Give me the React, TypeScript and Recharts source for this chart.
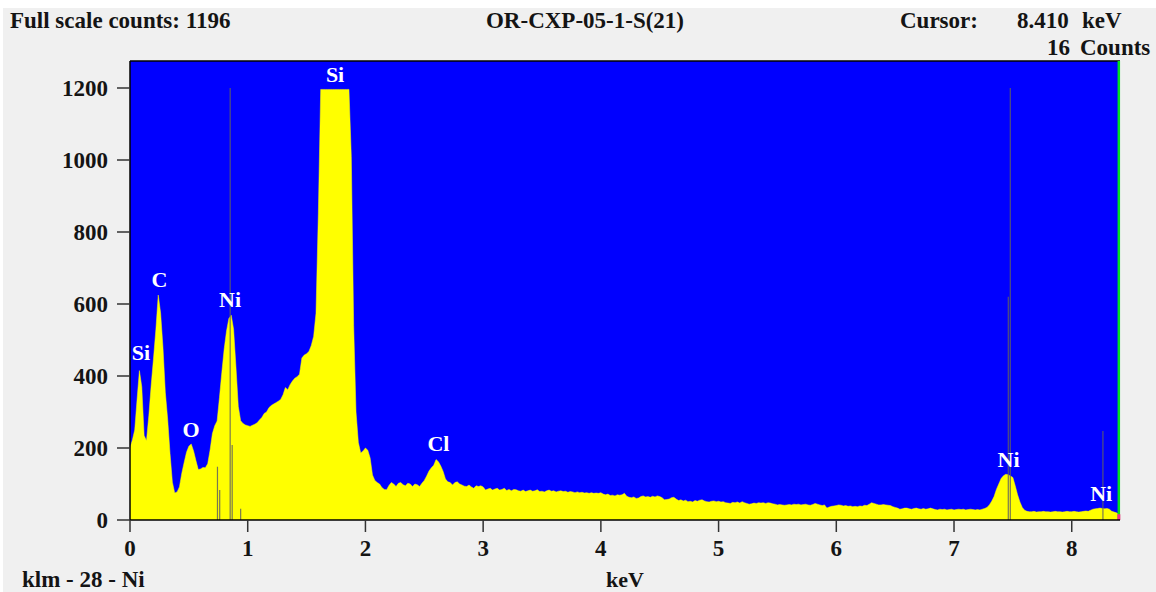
import React from 'react';
import {
  ComposedChart,
  Area,
  XAxis,
  YAxis,
  CartesianGrid,
  ReferenceLine,
  ReferenceDot,
} from 'recharts';

// Energy calibration: one value every 0.02 keV, starting at 0 keV
const CHANNEL_WIDTH_KEV = 0.02;

// Counts per channel (0.00 keV .. 8.40 keV)
const spectrumCounts = [
  200, 222, 250, 335, 415, 370, 235, 220, 290, 375,
  450, 530, 625, 575, 480, 355, 280, 185, 105, 75,
  78, 92, 130, 160, 188, 205, 211, 192, 165, 140,
  142, 146, 145, 156, 194, 240, 262, 275, 340, 410,
  475, 525, 560, 569, 530, 426, 315, 276, 268, 264,
  262, 260, 263, 266, 270, 278, 285, 296, 300, 312,
  318, 322, 326, 330, 335, 348, 368, 362, 376, 386,
  394, 398, 405, 450, 458, 462, 468, 485, 510, 574,
  852, 1196, 1196, 1196, 1196, 1196, 1196, 1196, 1196, 1196,
  1196, 1196, 1196, 1196, 1009, 540, 300, 215, 186, 192,
  200, 194, 172, 125, 110, 104, 100, 90, 85, 84,
  96, 104, 100, 93, 102, 104, 98, 95, 102, 100,
  93, 100, 98, 93, 102, 110, 122, 136, 145, 152,
  168, 162, 150, 135, 114, 106, 104, 97, 104, 106,
  100, 97, 94, 93, 97, 92, 88, 95, 93, 95,
  92, 83, 86, 88, 83, 86, 88, 83, 85, 88,
  82, 85, 81, 85, 84, 81, 80, 83, 79, 81,
  83, 80, 81, 84, 79, 80, 78, 81, 83, 80,
  81, 78, 80, 81, 79, 80, 77, 79, 78, 76,
  78, 76, 77, 75, 76, 74, 76, 74, 75, 74,
  76, 72, 70, 72, 68, 69, 67, 70, 69, 70,
  74, 66, 63, 62, 64, 60, 61, 65, 67, 64,
  65, 63, 66, 64, 67, 65, 62, 56, 57, 58,
  62, 63, 58, 54, 56, 53, 55, 51, 52, 50,
  54, 52, 55, 56, 53, 51, 50, 52, 53, 51,
  52, 50, 51, 48, 47, 46, 49, 48, 50, 47,
  51, 48, 46, 44, 45, 47, 46, 48, 47, 48,
  46, 48, 47, 45, 44, 42, 43, 42, 41, 42,
  43, 42, 44, 43, 44, 42, 43, 44, 42, 41,
  43, 46, 44, 42, 40, 42, 33, 36, 38, 39,
  40, 42, 41, 39, 40, 38, 39, 37, 38, 37,
  39, 38, 41, 40, 44, 48, 46, 44, 42, 42,
  43, 42, 41, 40, 37, 35, 33, 30, 31, 33,
  33, 31, 30, 32, 33, 31, 30, 32, 30, 31,
  33, 31, 29, 28, 30, 29, 30, 28, 29, 30,
  28, 29, 30, 29, 30, 28, 29, 30, 29, 28,
  29, 28, 30, 32, 35, 42, 52, 65, 85, 100,
  115, 123, 127, 126, 122, 118, 95, 70, 50, 35,
  27, 24, 23, 23, 24, 22, 23, 23, 24, 23,
  23, 22, 23, 24, 23, 23, 22, 23, 24, 23,
  23, 24, 23, 22, 23, 24, 25, 24, 27, 30,
  31, 32, 33, 32, 31, 32, 30, 24, 22, 20,
  16,
];

const xTicks = [0, 1, 2, 3, 4, 5, 6, 7, 8];
const yTicks = [0, 200, 400, 600, 800, 1000, 1200];
const xDomainMax = 8.41;
const yDomainMax = 1275;

// Peak identification labels
const peakLabelText = ['Si', 'C', 'O', 'Ni', 'Si', 'Cl', 'Ni', 'Ni'];
const peakLabelEnergy = [0.093, 0.25, 0.518, 0.85, 1.742, 2.62, 7.463, 8.25];
const peakLabelCounts = [444, 648, 231, 593, 1217, 192, 148, 54];

// KLM marker lines for Ni (28)
const klmEnergy = [0.743, 0.762, 0.851, 0.868, 0.94, 7.461, 7.478, 8.265];
const klmHeight = [148, 83, 1200, 208, 31, 620, 1200, 247];

// Cursor
const cursorEnergy = 8.4;
const cursorCounts = 16;

const data = spectrumCounts.map((c, i) => ({
  energy: Number((i * CHANNEL_WIDTH_KEV).toFixed(2)),
  counts: c,
}));

const FONT = "'Liberation Serif', 'Times New Roman', serif";
const TEXT = '#141414';

const W = 1156;
const H = 592;

export default function App() {
  return (
    <div style={{ position: 'absolute', left: 0, top: 0, width: W, height: H, background: '#ffffff', overflow: 'hidden' }}>
      <div style={{ position: 'absolute', left: 3, top: 8, width: W - 3, height: H - 8, background: '#f0f0f0' }} />
      <div style={{ position: 'absolute', left: 0, top: 0 }}>
        <ComposedChart
          width={W}
          height={H}
          data={data}
          margin={{ top: 61, right: 36, bottom: 32, left: 0 }}
        >
          <CartesianGrid horizontal={false} vertical={false} fill="#0000ff" fillOpacity={1} stroke="none" />
          <XAxis
            type="number"
            dataKey="energy"
            domain={[0, xDomainMax]}
            ticks={xTicks}
            allowDataOverflow
            height={40}
            tickSize={12}
            tickMargin={8}
            axisLine={{ stroke: '#000000', strokeWidth: 1.5 }}
            tickLine={{ stroke: '#333333', strokeWidth: 1.5 }}
            tick={{ fill: TEXT, fontSize: 23, fontWeight: 'bold', fontFamily: FONT }}
            label={{
              content: (props: any) => {
                const vb = props.viewBox || {};
                return (
                  <text
                    x={vb.x + vb.width / 2}
                    y={587}
                    textAnchor="middle"
                    fill={TEXT}
                    fontSize={22}
                    fontWeight="bold"
                    fontFamily={FONT}
                  >
                    keV
                  </text>
                );
              },
            }}
          />
          <YAxis
            type="number"
            domain={[0, yDomainMax]}
            ticks={yTicks}
            allowDataOverflow
            width={130}
            tickSize={13}
            tickMargin={9}
            axisLine={{ stroke: '#000000', strokeWidth: 1.5 }}
            tickLine={{ stroke: '#333333', strokeWidth: 1.5 }}
            tick={{ fill: TEXT, fontSize: 23, fontWeight: 'bold', fontFamily: FONT }}
          />
          <ReferenceLine y={yDomainMax} stroke="#000000" strokeWidth={1.5} />
          <Area
            type="linear"
            dataKey="counts"
            fill="#ffff00"
            fillOpacity={1}
            stroke="#ffff00"
            strokeWidth={0.5}
            isAnimationActive={false}
            dot={false}
            activeDot={false}
          />
          {klmEnergy.map((e, i) => (
            <ReferenceLine
              key={'klm' + i}
              segment={[
                { x: e, y: 0 },
                { x: e, y: klmHeight[i] },
              ]}
              stroke="#606060"
              strokeOpacity={0.85}
              strokeWidth={1.2}
            />
          ))}
          {peakLabelText.map((t, i) => (
            <ReferenceDot
              key={'lbl' + i}
              x={peakLabelEnergy[i]}
              y={peakLabelCounts[i]}
              r={0}
              shape={(p: any) => (
                <text
                  x={p.cx}
                  y={p.cy}
                  textAnchor="middle"
                  fill="#ffffff"
                  fontSize={22}
                  fontWeight="bold"
                  fontFamily={FONT}
                >
                  {t}
                </text>
              )}
            />
          ))}
          <ReferenceLine x={cursorEnergy} stroke="#00e020" strokeWidth={2.5} />
          <ReferenceLine
            segment={[
              { x: cursorEnergy, y: 0 },
              { x: cursorEnergy, y: cursorCounts },
            ]}
            stroke="#ff2a8a"
            strokeWidth={3}
          />
        </ComposedChart>
      </div>
      <svg
        width={W}
        height={H}
        style={{ position: 'absolute', left: 0, top: 0, pointerEvents: 'none' }}
      >
        <g fill={TEXT} fontSize={23} fontWeight="bold" fontFamily={FONT}>
          <text x={10} y={28}>Full scale counts: 1196</text>
          <text x={585} y={28} textAnchor="middle">OR-CXP-05-1-S(21)</text>
          <text x={900} y={28}>Cursor:</text>
          <text x={1017} y={28}>8.410</text>
          <text x={1082} y={28}>keV</text>
          <text x={1047} y={55}>16</text>
          <text x={1080} y={55}>Counts</text>
          <text x={22} y={587}>klm - 28 - Ni</text>
        </g>
      </svg>
    </div>
  );
}
